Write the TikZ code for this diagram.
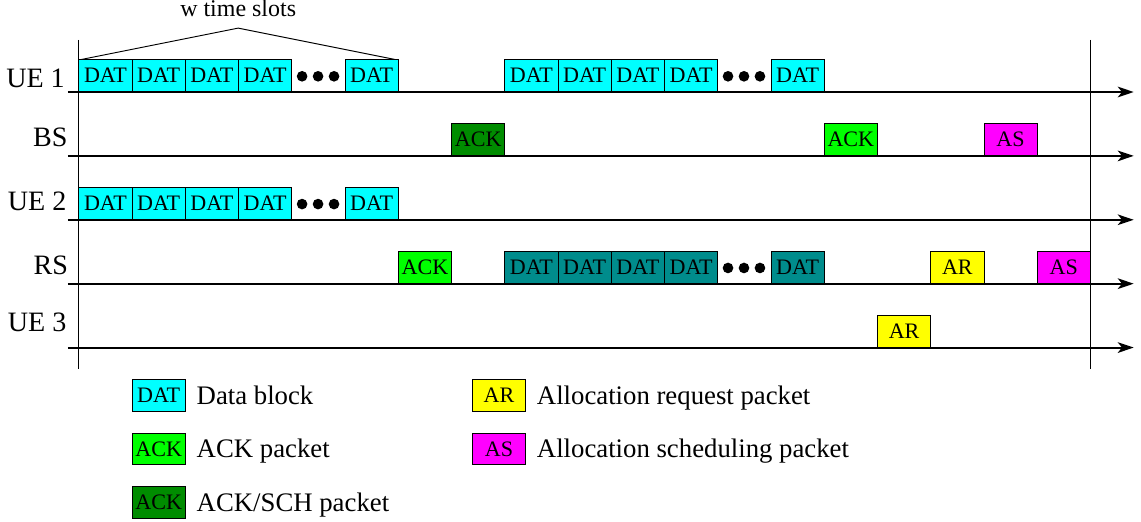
\documentclass[tikz,border=0pt]{standalone}
\usepackage{fontspec}
\setmainfont{Liberation Serif}
\usetikzlibrary{arrows.meta,positioning}
\definecolor{dcyan}{RGB}{0,255,255}
\definecolor{dgreen}{RGB}{0,255,0}
\definecolor{ddkgreen}{RGB}{0,140,0}
\definecolor{dteal}{RGB}{0,140,140}
\definecolor{dyellow}{RGB}{255,255,0}
\definecolor{dmagenta}{RGB}{255,0,255}

\begin{document}
\begin{tikzpicture}[
    black,
    packet/.style={draw,
        minimum width=1cm,
        minimum height=0.6cm,
        inner sep=0pt,
        anchor=south west,
        font=\fontsize{11.8}{12}\selectfont},
    dat/.style={packet, fill=dcyan},
    ack/.style={packet, fill=dgreen},
    sch/.style={packet, fill=ddkgreen},
    rdat/.style={packet, fill=dteal},
    areq/.style={packet, fill=dyellow},
    asch/.style={packet, fill=dmagenta},
    station/.style={anchor=base east, inner sep=0pt, font=\fontsize{15}{16}\selectfont},
    timeline/.style={line width=1.1pt, -{Stealth[length=3mm,width=2mm,inset=0.8mm]}},
    legend/.style={inner sep=0pt, yshift=-0.08cm, text height=1.5ex, text depth=0.45ex, font=\fontsize{14.3}{16}\selectfont}]

\useasboundingbox (-1.474,-8.058) rectangle (19.957,1.728);

% Frame
\coordinate (ftl) at (0,0.98);
\coordinate (fbl) at (0,-5.2);
\coordinate (ftr) at (19,0.98);
\coordinate (fbr) at (19,-5.2);
\draw[line width=0.5pt] (ftl) -- (fbl);
\draw[line width=0.5pt] (ftr) -- (fbr);

% w time slots
\coordinate (wl) at (0,0.6);
\coordinate (wt) at (3,1.2);
\coordinate (wr) at (6,0.6);
\draw[line width=0.5pt] (wl) -- (wt) -- (wr);
\node[anchor=base, inner sep=0pt, font=\fontsize{12.8}{14}\selectfont] (wlabel) at (3,1.41) {w time slots};

% UE 1
\foreach \i in {0,1,2,3,5,8,9,10,11,13}
    \node[dat] (ua\i) at (\i,0) {DAT};
\foreach \c in {4.5,12.5}
    \foreach \d in {-0.3,0,0.3}
        \fill (\c+\d,0.295) circle (0.1);

% BS
\node[sch] (bsack) at (7,-1.2) {ACK};
\node[ack] (bsack2) at (14,-1.2) {ACK};
\node[asch] (bsas) at (17,-1.2) {AS};

% UE 2
\foreach \i in {0,1,2,3,5}
    \node[dat] (ub\i) at (\i,-2.4) {DAT};
\foreach \d in {-0.3,0,0.3}
    \fill (4.5+\d,-2.105) circle (0.1);

% RS
\node[ack] (rsack) at (6,-3.6) {ACK};
\foreach \i in {8,9,10,11,13}
    \node[rdat] (rd\i) at (\i,-3.6) {DAT};
\foreach \d in {-0.3,0,0.3}
    \fill (12.5+\d,-3.305) circle (0.1);
\node[areq] (rsar) at (16,-3.6) {AR};
\node[asch] (rsas) at (18,-3.6) {AS};

% UE 3
\node[areq] (uar) at (15,-4.8) {AR};

% Timelines
\foreach \name/\y in {ue1/0, bs/-1.2, ue2/-2.4, rs/-3.6, ue3/-4.8} {
    \coordinate (\name s) at (-0.2,\y);
    \coordinate (\name e) at (19.82,\y);
    \draw[timeline] (\name s) -- (\name e);
}

% Station names
\node[station] (lue1) at (-0.25,0.09) {UE 1};
\node[station] (lbs) at (-0.2,-1.025) {BS};
\node[station] (lue2) at (-0.22,-2.225) {UE 2};
\node[station] (lrs) at (-0.19,-3.43) {RS};
\node[station] (lue3) at (-0.22,-4.49) {UE 3};

% Legend
\node[dat] (kdat) at (1,-6.01) {DAT};
\node[legend, right=0.2 of kdat] (tdat) {Data block};
\node[ack] (kack) at (1,-7.01) {ACK};
\node[legend, right=0.2 of kack] (tack) {ACK packet};
\node[sch] (ksch) at (1,-8.02) {ACK};
\node[legend, right=0.2 of ksch] (tsch) {ACK/SCH packet};
\node[areq] (kar) at (7.39,-6.01) {AR};
\node[legend, right=0.2 of kar] (tar) {Allocation request packet};
\node[asch] (kas) at (7.39,-7.01) {AS};
\node[legend, right=0.2 of kas] (tas) {Allocation scheduling packet};

\end{tikzpicture}
\end{document}
